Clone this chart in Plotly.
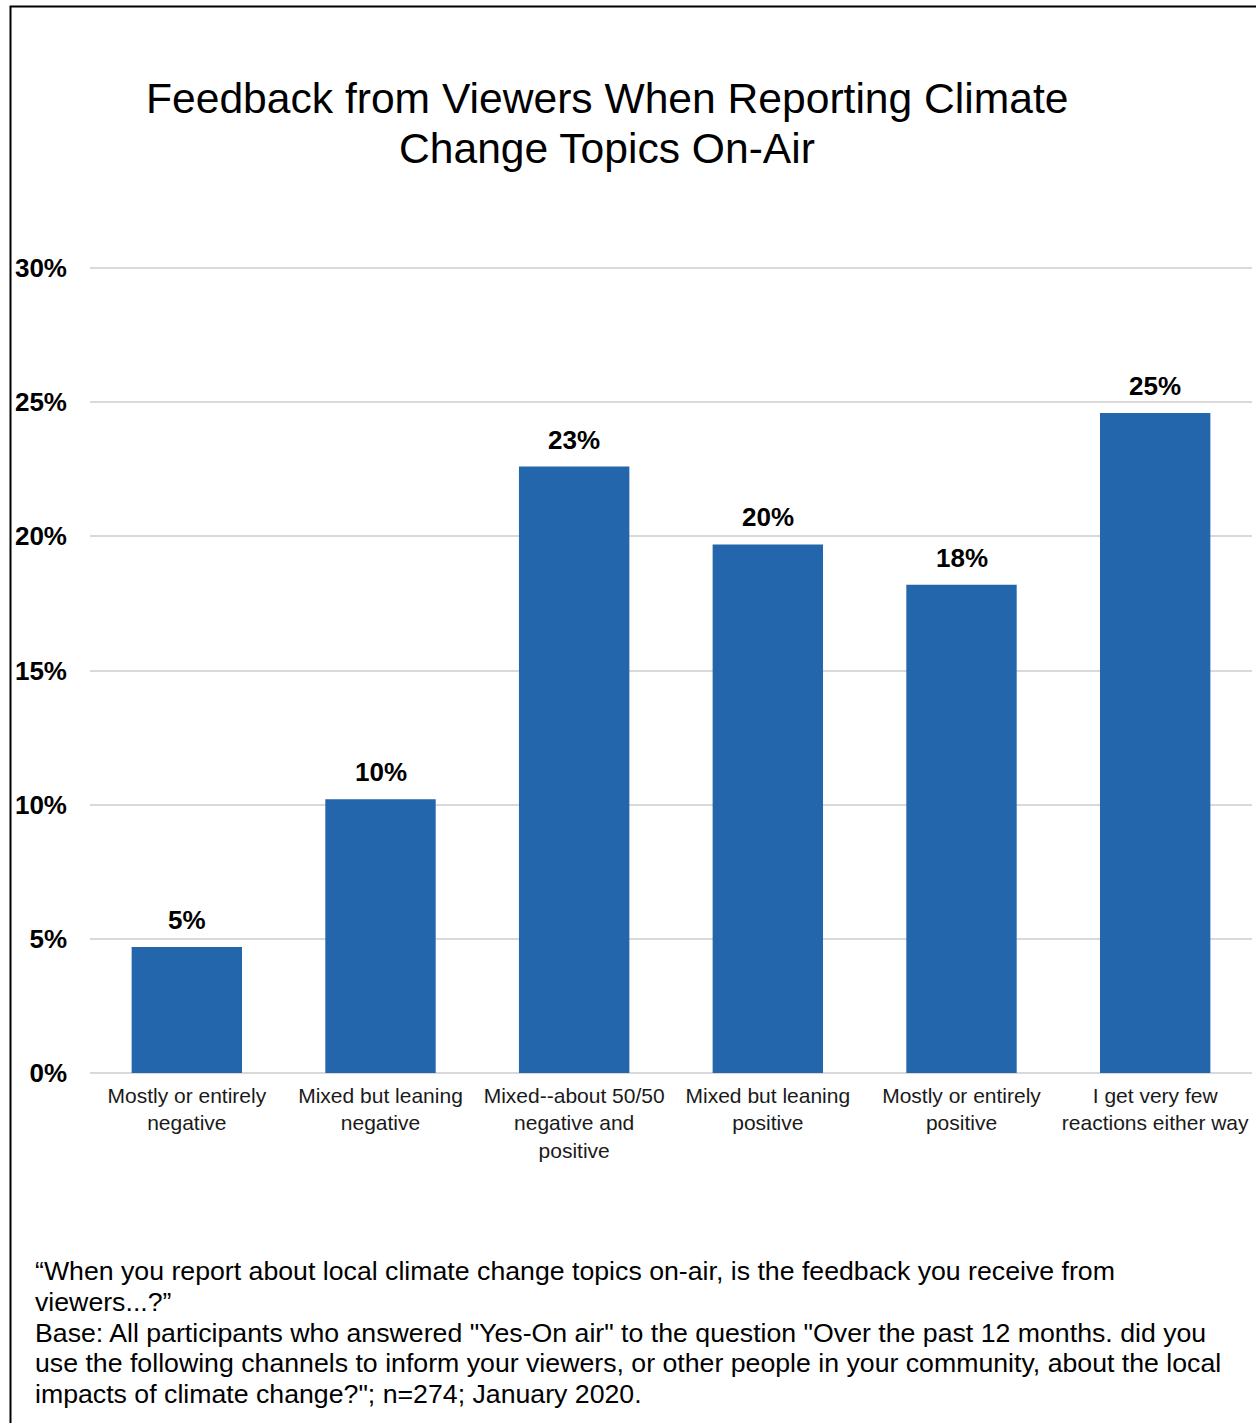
import plotly.graph_objects as go

# Survey answers and shares of respondents
categories = [
    "Mostly or entirely<br>negative",
    "Mixed but leaning<br>negative",
    "Mixed--about 50/50<br>negative and<br>positive",
    "Mixed but leaning<br>positive",
    "Mostly or entirely<br>positive",
    "I get very few<br>reactions either way",
]
shares = [0.047, 0.102, 0.226, 0.197, 0.182, 0.246]
y_ticks = [0, 0.05, 0.10, 0.15, 0.20, 0.25, 0.30]

title_lines = ["Feedback from Viewers When Reporting Climate", "Change Topics On-Air"]
footnote_lines = [
    "\u201cWhen you report about local climate change topics on-air, is the feedback you receive from",
    "viewers...?\u201d",
    "Base: All participants who answered \"Yes-On air\" to the question \"Over the past 12 months. did you",
    "use the following channels to inform your viewers, or other people in your community, about the local",
    "impacts of climate change?\"; n=274; January 2020.",
]

W, H = 1256, 1423
Y_TOP = 0.3015  # a little headroom so the 30% gridline is drawn
ML, MR, MB = 90, 4, 350
ZERO_PX = H - MB            # pixel row of 0%
PX_PER_UNIT = 805 / 0.30    # 30% spans 805 px
MT = int(round(ZERO_PX - Y_TOP * PX_PER_UNIT))
PW, PH = W - ML - MR, ZERO_PX - MT


def px_x(px):
    return (px - ML) / PW


def px_y(py):
    return (ZERO_PX - py) / PH


FONT = "Liberation Sans, Arial, sans-serif"
BAR_COLOR = "#2366ac"

fig = go.Figure(
    go.Bar(
        x=list(range(len(categories))),
        y=shares,
        marker=dict(color=BAR_COLOR, line=dict(width=0)),
        width=0.57,
        hoverinfo="skip",
    )
)

fig.update_layout(
    width=W,
    height=H,
    margin=dict(l=ML, r=MR, t=MT, b=MB, pad=0),
    paper_bgcolor="#ffffff",
    plot_bgcolor="#ffffff",
    showlegend=False,
    font=dict(family=FONT, color="#000000"),
)

fig.update_xaxes(
    tickmode="array",
    tickvals=list(range(len(categories))),
    ticktext=categories,
    tickangle=0,
    range=[-0.5, len(categories) - 0.5],
    showgrid=False,
    showline=False,
    zeroline=False,
    ticks="",
    ticklabelstandoff=8,
    tickfont=dict(family=FONT, size=21, color="#1a1a1a"),
)

fig.update_yaxes(
    range=[0, Y_TOP],
    tickmode="array",
    tickvals=y_ticks,
    tickformat=".0%",
    showgrid=True,
    gridcolor="#d9d9d9",
    gridwidth=2,
    zeroline=True,
    zerolinecolor="#d9d9d9",
    zerolinewidth=2,
    showline=False,
    ticks="",
    ticklabelstandoff=22,
    tickfont=dict(family=FONT, size=26, color="#000000", weight="bold"),
)

annotations = []

# Value labels above each bar
for i, v in enumerate(shares):
    annotations.append(dict(
        x=i, y=v, xref="x", yref="y",
        text=f"{v:.0%}",
        xanchor="center", yanchor="middle",
        yshift=27,
        showarrow=False,
        font=dict(family=FONT, size=26, color="#000000", weight="bold"),
    ))

# Two-line title
for line, py in zip(title_lines, [98, 148]):
    annotations.append(dict(
        text=line,
        x=px_x(607), y=px_y(py),
        xref="paper", yref="paper",
        xanchor="center", yanchor="middle",
        showarrow=False,
        font=dict(family=FONT, size=42.6, color="#000000"),
    ))

# Question wording and base below the chart
for line, py in zip(footnote_lines, [1271, 1302, 1333, 1363, 1394]):
    annotations.append(dict(
        text=line,
        x=px_x(33), y=px_y(py),
        xref="paper", yref="paper",
        xanchor="left", yanchor="middle",
        showarrow=False,
        font=dict(family=FONT, size=26.7, color="#000000"),
    ))

fig.update_layout(annotations=annotations)

# Frame line along the left and top edges of the page
fig.add_shape(
    type="path",
    xref="paper", yref="paper",
    path=f"M {px_x(10.5)} {px_y(H + 10)} L {px_x(10.5)} {px_y(6.5)} L {px_x(W + 10)} {px_y(6.5)}",
    line=dict(color="#000000", width=2),
    layer="above",
)

fig.write_html("out.html")
